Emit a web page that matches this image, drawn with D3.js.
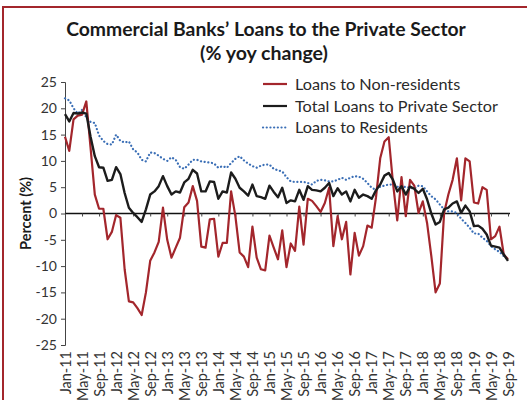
<!DOCTYPE html>
<html>
<head>
<meta charset="utf-8">
<script src="https://cdn.jsdelivr.net/npm/d3@7"></script>
<style>
  html, body { margin: 0; padding: 0; background: #fff; }
  svg { display: block; }
  text { font-family: Lato, "Open Sans", sans-serif; }
</style>
</head>
<body>
<svg id="chart" width="527" height="400"></svg>
<script>
// Monthly categories, Jan-2011 through Sep-2019
const categories = d3.timeMonth
  .range(new Date(2011, 0, 1), new Date(2019, 9, 1))
  .map(d3.timeFormat("%b-%y"));

const tickLabels = [
  "Jan-11","May-11","Sep-11","Jan-12","May-12","Sep-12","Jan-13","May-13","Sep-13",
  "Jan-14","May-14","Sep-14","Jan-15","May-15","Sep-15","Jan-16","May-16","Sep-16",
  "Jan-17","May-17","Sep-17","Jan-18","May-18","Sep-18","Jan-19","May-19","Sep-19"
];

const yTicks = [25, 20, 15, 10, 5, 0, -5, -10, -15, -20, -25];

// Loans to non-residents, % yoy
const nonResidents = [
  14.6, 11.9, 17.9, 18.6, 18.8, 21.3, 12.5, 3.6, 0.9, 0.9, -4.9, -3.5,
  -0.3, -0.8, -10.6, -16.7, -16.9, -18.0, -19.3, -15.0, -9.0, -7.4, -5.4, 1.1,
  -5.0, -8.4, -6.5, -4.6, 1.2, 2.1, 5.2, 2.4, -6.3, -6.5, -1.1, -1.0,
  -8.2, -5.6, -5.6, 4.2, -0.5, -7.4, -8.2, -10.2, -2.5, -8.4, -10.6, -10.8,
  -4.2, -6.5, -8.7, -3.2, -10.2, -5.7, -7.1, 1.3, -5.9, 2.8, 2.4, 1.4,
  0.3, 2.0, 4.9, -6.2, -0.5, -4.9, -1.6, -11.6, -3.7, -8.0, -6.2, -2.3,
  -2.7, 3.0, 10.5, 13.7, 14.5, 5.8, -1.3, 6.9, -0.5, 6.4, 5.3, 0.1,
  2.3, -1.8, -8.1, -15.0, -13.3, 0.1, 3.6, 6.4, 10.5, 2.5, 10.5, 9.9,
  2.1, 1.9, 5.0, 4.5, -4.9, -4.3, -2.5, -7.8, -8.7
];

// Total loans to the private sector, % yoy
const totalLoans = [
  18.9, 17.5, 19.1, 19.0, 19.2, 19.0, 14.6, 10.9, 8.8, 8.7, 6.2, 6.4,
  8.8, 7.5, 3.9, 1.1, 0.1, -0.7, -1.6, 0.8, 3.6, 4.2, 5.2, 7.1,
  5.2, 3.6, 4.2, 4.0, 5.9, 6.6, 8.3, 7.6, 4.2, 4.2, 6.1, 6.0,
  2.8, 4.2, 4.0, 7.8, 6.6, 4.9, 4.2, 3.4, 5.5, 3.3, 3.1, 2.8,
  5.3, 4.1, 3.1, 4.9, 2.0, 2.5, 2.3, 4.5, 2.6, 5.2, 4.5, 4.4,
  4.2, 4.9, 5.8, 3.3, 4.8, 3.6, 4.2, 2.3, 4.5, 3.0, 3.6, 3.3,
  2.8, 4.4, 5.5, 7.2, 7.7, 6.4, 4.2, 5.2, 3.6, 5.1, 4.7, 3.9,
  4.7, 2.7, 0.0, -2.1, -1.6, 0.8, 1.1, 1.9, 2.3, 0.1, 1.5, 0.4,
  -2.4, -2.3, -2.9, -4.0, -6.1, -6.3, -6.5, -7.8, -9.0
];

// Loans to residents, % yoy
const residents = [
  21.9, 21.5, 20.0, 19.0, 19.7, 18.3, 17.4, 17.2, 14.8, 13.8, 13.2, 13.1,
  15.0, 13.8, 13.5, 13.7, 12.2, 11.6, 10.2, 9.9, 11.6, 11.5, 11.0, 10.4,
  10.0, 10.7, 10.2, 8.8, 8.5, 9.3, 10.2, 10.2, 9.9, 9.8, 9.7, 9.5,
  8.7, 9.0, 8.7, 9.6, 10.4, 10.9, 10.1, 9.5, 9.0, 8.7, 9.1, 9.3,
  9.3, 8.5, 8.2, 8.0, 6.9, 6.1, 6.0, 6.0, 6.0, 5.8, 5.5, 6.2,
  6.4, 6.3, 6.1, 6.1, 6.4, 6.8, 6.4, 6.8, 7.1, 7.0, 6.6, 5.8,
  4.9, 4.5, 5.1, 5.3, 5.5, 5.5, 5.1, 4.9, 5.1, 4.9, 4.7, 5.3,
  5.2, 4.2, 3.3, 2.7, 1.7, 0.8, 0.4, 0.4, 0.1, -1.0, -1.8, -2.7,
  -3.8, -3.8, -4.6, -5.2, -6.2, -6.8, -7.3, -8.1, -8.7
];

const seriesNames = ["Loans to Non-residents", "Total Loans to Private Sector", "Loans to Residents"];
const seriesValues = [nonResidents, totalLoans, residents];
const seriesColors = ["#a3262c", "#1c1c1c", "#3b6fb6"];
const seriesDash = [null, null, "0.1 3.6"];

const svg = d3.select("#chart");
const W = 527, H = 400;
const plot = { left: 65, right: 508, top: 82, bottom: 345 };
const red = "#a3262c";

// Scale a text element's font size so its rendered width equals `width`
function fitWidth(sel, width) {
  sel.each(function () {
    const fs = parseFloat(this.getAttribute("font-size"));
    const len = this.getComputedTextLength();
    if (len > 0) this.setAttribute("font-size", (fs * width / len).toFixed(2));
  });
}

// Frame
svg.append("rect")
  .attr("x", 3).attr("y", 7)
  .attr("width", W + 10).attr("height", H + 10)
  .attr("fill", "none").attr("stroke", red).attr("stroke-width", 2);

// Title
const t1 = svg.append("text")
  .attr("x", 266).attr("y", 36).attr("text-anchor", "middle")
  .attr("font-weight", 700).attr("font-size", 17.5).attr("fill", "#1a1a1a")
  .text("Commercial Banks\u2019 Loans to the Private Sector");
fitWidth(t1, 400);
const t2 = svg.append("text")
  .attr("x", 264).attr("y", 60).attr("text-anchor", "middle")
  .attr("font-weight", 700).attr("font-size", 17.5).attr("fill", "#1a1a1a")
  .text("(% yoy change)");
fitWidth(t2, 128);

const x = d3.scalePoint().domain(categories).range([plot.left, plot.right]);
const y = d3.scaleLinear().domain([-25, 25]).range([plot.bottom, plot.top]);

// Y axis
const yAxis = svg.append("g")
  .attr("transform", `translate(${plot.left},0)`)
  .call(d3.axisLeft(y).tickValues(yTicks).tickSize(4).tickPadding(4).tickFormat(d3.format("d")));
yAxis.select(".domain").attr("stroke", "#444").attr("stroke-width", 1);
yAxis.selectAll(".tick line").attr("stroke", "#444");
yAxis.selectAll(".tick text")
  .attr("font-size", 14).attr("fill", "#333")
  .attr("font-family", "Lato, sans-serif")
  .text(d => d < 0 ? "-" + Math.abs(d) : d);

// Y axis title
svg.append("text")
  .attr("transform", `translate(31,${y(0)}) rotate(-90)`)
  .attr("text-anchor", "middle")
  .attr("font-weight", 700).attr("font-size", 14.5).attr("fill", "#1a1a1a")
  .text("Percent (%)");

// Zero line with small ticks
const xZero = svg.append("g")
  .attr("transform", `translate(0,${y(0)})`)
  .call(d3.axisBottom(x).tickValues(tickLabels).tickSize(3).tickFormat(""));
xZero.select(".domain").attr("stroke", "#111").attr("stroke-width", 1.4)
  .attr("d", `M${plot.left},0H${plot.right + 2}`);
xZero.selectAll(".tick line").attr("stroke", "#444");

// Category labels along the bottom
const xLab = svg.append("g")
  .attr("transform", `translate(0,${plot.bottom})`)
  .call(d3.axisBottom(x).tickValues(tickLabels).tickSize(0).tickPadding(0));
xLab.select(".domain").remove();
xLab.selectAll(".tick text")
  .attr("font-size", 14.5).attr("fill", "#333")
  .attr("font-family", "Lato, sans-serif")
  .attr("text-anchor", "end")
  .attr("transform", "rotate(-90)")
  .attr("x", -6).attr("y", 0).attr("dy", "0.35em");

// Series lines (residents drawn first, underneath)
const line = d3.line().x((d, i) => x(categories[i])).y(d => y(d));
[2, 0, 1].forEach(k => {
  const p = svg.append("path")
    .datum(seriesValues[k])
    .attr("fill", "none")
    .attr("stroke", seriesColors[k])
    .attr("stroke-width", k === 1 ? 2.4 : 2.2)
    .attr("stroke-linejoin", "round")
    .attr("d", line);
  if (seriesDash[k]) p.attr("stroke-dasharray", seriesDash[k]).attr("stroke-linecap", "round");
});

// Legend
const legend = svg.append("g");
const legendY = [84, 106, 127.5];
seriesNames.forEach((name, k) => {
  const ln = legend.append("line")
    .attr("x1", 263).attr("x2", 287)
    .attr("y1", legendY[k]).attr("y2", legendY[k])
    .attr("stroke", seriesColors[k]).attr("stroke-width", 2.2);
  if (seriesDash[k]) ln.attr("stroke-dasharray", seriesDash[k]).attr("stroke-linecap", "round");
  legend.append("text")
    .attr("x", 295).attr("y", legendY[k]).attr("dy", "0.36em")
    .attr("font-size", 15).attr("fill", "#2a2a2a")
    .text(name);
});
// Same size for all rows, sized so the longest row spans its full width
const legendTexts = legend.selectAll("text");
const widest = d3.max(legendTexts.nodes(), n => n.getComputedTextLength());
legendTexts.attr("font-size", (15 * 203 / widest).toFixed(2));
</script>
</body>
</html>
